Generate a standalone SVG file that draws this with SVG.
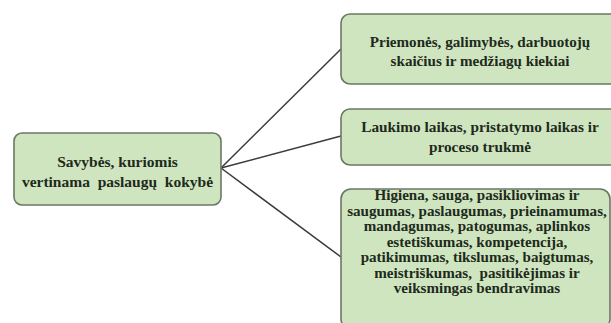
<svg xmlns="http://www.w3.org/2000/svg" width="611" height="323" viewBox="0 0 611 323">
<defs>
<style>
.box{fill:#cfe5c0;stroke:#6a7864;stroke-width:1.6}
.lbl{fill:#1e2a1b}
.c{stroke:#3b3b3b;stroke-width:1.5;fill:none}
</style>
</defs>
<rect width="611" height="323" fill="#ffffff"/>
<g id="connectors">
<line class="c" x1="221" y1="168" x2="341" y2="49"/>
<line class="c" x1="221" y1="168" x2="341" y2="136"/>
<line class="c" x1="221" y1="168" x2="341" y2="257"/>
</g>
<g id="root" font-family="Liberation Serif" font-weight="bold" text-anchor="middle">
<rect class="box" x="14" y="133" width="207" height="72" rx="8"/>
<text class="lbl" font-size="15.5" x="117.5" y="167">Savybės, kuriomis</text>
<text class="lbl" font-size="15.5" x="117.5" y="187" xml:space="preserve">vertinama  paslaugų  kokybė</text>
</g>
<g id="n1" font-family="Liberation Serif" font-weight="bold" text-anchor="middle">
<rect class="box" x="341" y="14" width="280" height="70" rx="9"/>
<text class="lbl" font-size="15.1" x="480" y="47">Priemonės, galimybės, darbuotojų</text>
<text class="lbl" font-size="15.1" x="480" y="66">skaičius ir medžiagų kiekiai</text>
</g>
<g id="n2" font-family="Liberation Serif" font-weight="bold" text-anchor="middle">
<rect class="box" x="341" y="109" width="280" height="56" rx="9"/>
<text class="lbl" font-size="15.3" x="480" y="132">Laukimo laikas, pristatymo laikas ir</text>
<text class="lbl" font-size="15.3" x="480" y="152">proceso trukmė</text>
</g>
<g id="n3" font-family="Liberation Serif" font-weight="bold" text-anchor="middle">
<rect class="box" x="341" y="189" width="269" height="140" rx="10"/>
<text class="lbl" font-size="15.1" x="477" y="200">Higiena, sauga, pasikliovimas ir</text>
<text class="lbl" font-size="15.1" x="477" y="215.5">saugumas, paslaugumas, prieinamumas,</text>
<text class="lbl" font-size="15.1" x="477" y="231">mandagumas, patogumas, aplinkos</text>
<text class="lbl" font-size="15.1" x="477" y="246.5">estetiškumas, kompetencija,</text>
<text class="lbl" font-size="15.1" x="477" y="262">patikimumas, tikslumas, baigtumas,</text>
<text class="lbl" font-size="15.1" x="477" y="277.5" xml:space="preserve">meistriškumas,  pasitikėjimas ir</text>
<text class="lbl" font-size="15.1" x="477" y="293">veiksmingas bendravimas</text>
</g>
</svg>
